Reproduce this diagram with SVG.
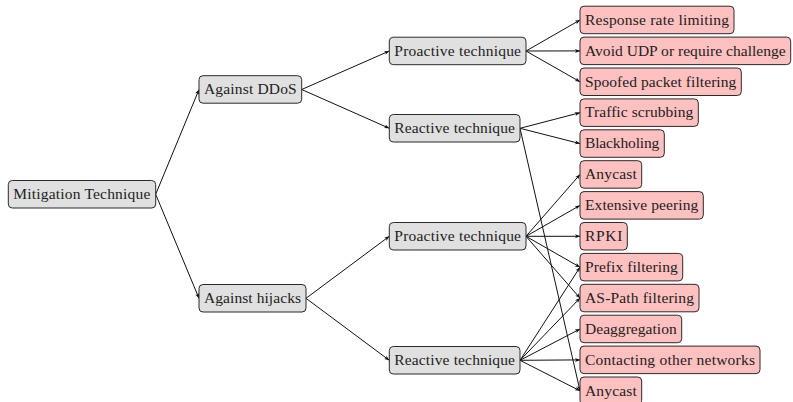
<svg xmlns="http://www.w3.org/2000/svg" width="793" height="402" viewBox="0 0 793 402">
<style>
rect{stroke:#2a2a2a;stroke-width:1;}
.g rect{fill:#e0e0e0;}
.p rect{fill:#ffc0c0;}
text{font-family:"Liberation Serif","Times New Roman",serif;font-size:15.5px;fill:#222;}
#edges line{stroke:#111;stroke-width:1;marker-end:url(#ah);}
</style>
<defs>
<marker id="ah" markerUnits="userSpaceOnUse" markerWidth="6" markerHeight="5" refX="5" refY="2" orient="auto" overflow="visible">
<path d="M0,0 L5,2 L0,4 L1.3,2 z" fill="#111"/>
</marker>
</defs>
<rect width="793" height="402" fill="#fff" style="stroke:none"/>
<g id="edges">
<line x1="155.7" y1="194.3" x2="199" y2="89.5"/>
<line x1="155.7" y1="194.3" x2="199" y2="298.3"/>
<line x1="301.7" y1="89.5" x2="389.3" y2="51"/>
<line x1="301.7" y1="89.5" x2="389.3" y2="128.3"/>
<line x1="306" y1="298.3" x2="389.3" y2="236.3"/>
<line x1="306" y1="298.3" x2="389.3" y2="360.3"/>
<line x1="526" y1="51" x2="580" y2="20"/>
<line x1="526" y1="51" x2="580" y2="50.9"/>
<line x1="526" y1="51" x2="580" y2="81.8"/>
<line x1="520" y1="128.3" x2="580" y2="112.7"/>
<line x1="520" y1="128.3" x2="580" y2="143.6"/>
<line x1="520" y1="128.3" x2="580" y2="390.8"/>
<line x1="526" y1="236.3" x2="580" y2="174.5"/>
<line x1="526" y1="236.3" x2="580" y2="205.4"/>
<line x1="526" y1="236.3" x2="580" y2="236.3"/>
<line x1="526" y1="236.3" x2="580" y2="267.2"/>
<line x1="526" y1="236.3" x2="580" y2="298.1"/>
<line x1="520" y1="360.3" x2="580" y2="267.2"/>
<line x1="520" y1="360.3" x2="580" y2="298.1"/>
<line x1="520" y1="360.3" x2="580" y2="329"/>
<line x1="520" y1="360.3" x2="580" y2="359.9"/>
<line x1="520" y1="360.3" x2="580" y2="390.8"/>
</g>
<g id="root" class="g"><rect x="8.3" y="180.5" width="147.4" height="27.5" rx="4"/><text x="13.3" y="199" textLength="137">Mitigation Technique</text></g>
<g id="ddos" class="g"><rect x="199" y="75.7" width="102.7" height="27.5" rx="4"/><text x="204" y="94.2" textLength="92.7">Against DDoS</text></g>
<g id="hijacks" class="g"><rect x="199" y="284.5" width="107" height="27.5" rx="4"/><text x="204" y="303" textLength="97">Against hijacks</text></g>
<g id="pro-ddos" class="g"><rect x="389.3" y="37.2" width="136.7" height="27.5" rx="4"/><text x="394.3" y="55.7" textLength="126.7">Proactive technique</text></g>
<g id="re-ddos" class="g"><rect x="389.3" y="114.5" width="130.7" height="27.5" rx="4"/><text x="394.3" y="133" textLength="120.7">Reactive technique</text></g>
<g id="pro-hij" class="g"><rect x="389.3" y="222.5" width="136.7" height="27.5" rx="4"/><text x="394.3" y="241" textLength="126.7">Proactive technique</text></g>
<g id="re-hij" class="g"><rect x="389.3" y="346.5" width="130.7" height="27.5" rx="4"/><text x="394.3" y="365" textLength="120.7">Reactive technique</text></g>
<g id="l1" class="p"><rect x="580" y="6.2" width="154" height="27.5" rx="4"/><text x="585" y="24.7" textLength="144">Response rate limiting</text></g>
<g id="l2" class="p"><rect x="580" y="37.1" width="210.7" height="27.5" rx="4"/><text x="585" y="55.6" textLength="200.7">Avoid UDP or require challenge</text></g>
<g id="l3" class="p"><rect x="580" y="68" width="161.3" height="27.5" rx="4"/><text x="585" y="86.5" textLength="151.3">Spoofed packet filtering</text></g>
<g id="l4" class="p"><rect x="580" y="98.9" width="118.3" height="27.5" rx="4"/><text x="585" y="117.4" textLength="108.3">Traffic scrubbing</text></g>
<g id="l5" class="p"><rect x="580" y="129.8" width="84.3" height="27.5" rx="4"/><text x="585" y="148.3" textLength="74.3">Blackholing</text></g>
<g id="l6" class="p"><rect x="580" y="160.7" width="61.7" height="27.5" rx="4"/><text x="585" y="179.2" textLength="51.7">Anycast</text></g>
<g id="l7" class="p"><rect x="580" y="191.6" width="123.3" height="27.5" rx="4"/><text x="585" y="210.1" textLength="113.3">Extensive peering</text></g>
<g id="l8" class="p"><rect x="580" y="222.5" width="47.3" height="27.5" rx="4"/><text x="585" y="241" textLength="37.3">RPKI</text></g>
<g id="l9" class="p"><rect x="580" y="253.4" width="102.7" height="27.5" rx="4"/><text x="585" y="271.9" textLength="92.7">Prefix filtering</text></g>
<g id="l10" class="p"><rect x="580" y="284.3" width="119" height="27.5" rx="4"/><text x="585" y="302.8" textLength="109">AS-Path filtering</text></g>
<g id="l11" class="p"><rect x="580" y="315.2" width="101.7" height="27.5" rx="4"/><text x="585" y="333.7" textLength="91.7">Deaggregation</text></g>
<g id="l12" class="p"><rect x="580" y="346.1" width="180" height="27.5" rx="4"/><text x="585" y="364.6" textLength="170">Contacting other networks</text></g>
<g id="l13" class="p"><rect x="580" y="377" width="61.7" height="27.5" rx="4"/><text x="585" y="395.5" textLength="51.7">Anycast</text></g>
</svg>
